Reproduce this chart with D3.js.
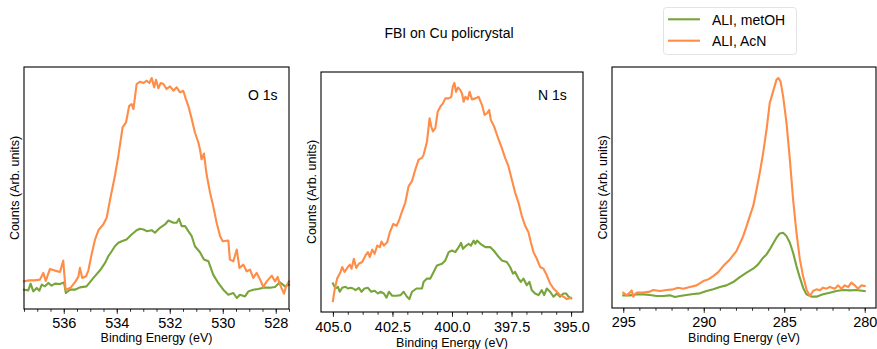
<!DOCTYPE html>
<html>
<head>
<meta charset="utf-8">
<script src="https://cdn.jsdelivr.net/npm/d3@7"></script>
<style>
  body { margin: 0; background: #fff; }
  svg { font-family: 'Liberation Sans', Arial, sans-serif; }
</style>
</head>
<body>
<svg id="chart" width="877" height="349"></svg>
<script>
// binding energy (eV) / counts (arb. units)
const o1sMetOH = [[537.50,19],[537.34,18.3],[537.25,25],[537.15,17.3],[537.02,20.7],[536.92,18],[536.83,24],[536.71,22.3],[536.58,25.7],[536.46,23],[536.33,25],[536.14,24.7],[535.99,26.3],[535.92,15.7],[535.76,19],[535.58,19],[535.39,21.3],[535.14,22.3],[534.88,30.7],[534.63,38.3],[534.44,45.7],[534.32,52.3],[534.19,57.3],[534.07,62.3],[533.94,65.7],[533.81,67.3],[533.63,69],[533.44,74],[533.25,78.3],[533.12,79.7],[532.99,79],[532.87,77.3],[532.68,78.3],[532.56,75.7],[532.37,80.7],[532.18,84],[532.05,88],[531.86,85.7],[531.74,85.7],[531.65,89.7],[531.55,82.3],[531.42,82.3],[531.30,77.3],[531.17,72.3],[531.05,62.3],[530.86,56.3],[530.71,49],[530.54,47.3],[530.36,34],[530.17,25.7],[529.98,19],[529.79,14],[529.60,15.7],[529.47,10.7],[529.35,14],[529.16,12.3],[529.03,17.3],[528.85,19],[528.66,19.7],[528.47,21],[528.22,21],[528.03,21.7],[527.84,26.3],[527.65,22.3],[527.50,24]]
const o1sAcN = [[537.50,27.3],[537.30,28.3],[537.10,28.3],[536.90,29],[536.77,35.7],[536.68,27.7],[536.52,39.7],[536.33,38],[536.14,36.7],[536.02,48],[535.93,19],[535.74,21],[535.58,26.3],[535.45,31.7],[535.39,40.7],[535.30,30.7],[535.16,32.3],[535.07,38.3],[534.95,54],[534.82,69],[534.69,78.3],[534.51,84],[534.38,90.7],[534.25,109],[534.07,132.3],[533.94,152.3],[533.78,180.7],[533.65,185.7],[533.53,202.3],[533.44,204],[533.37,199],[533.25,224],[533.12,226.3],[532.99,225],[532.87,227.3],[532.77,225],[532.68,230],[532.59,220.7],[532.52,228.3],[532.43,219.7],[532.34,225],[532.24,224],[532.12,219],[531.99,221.7],[531.86,217.3],[531.74,220.7],[531.61,215.7],[531.49,217.3],[531.39,209],[531.30,202.3],[531.17,189],[531.05,175.7],[530.92,165.7],[530.86,159],[530.80,149],[530.71,154.7],[530.61,134],[530.48,115.7],[530.36,102.3],[530.23,85.7],[530.10,72.3],[530.00,67.3],[529.79,68],[529.73,49],[529.60,47.3],[529.47,59],[529.37,40.7],[529.22,44],[529.10,37.3],[528.97,39],[528.85,30.7],[528.72,35.7],[528.59,29],[528.47,21.7],[528.34,27.3],[528.15,33],[528.03,27.3],[527.93,31.7],[527.84,24],[527.69,15],[527.61,22.3],[527.50,27.3]]

const n1sMetOH = [[405.00,27],[404.89,22],[404.79,23.7],[404.71,18.7],[404.61,22.7],[404.47,23.7],[404.37,22],[404.26,22.7],[404.15,22],[404.05,20.3],[403.91,22.7],[403.80,18.7],[403.67,22],[403.53,22.7],[403.39,18.7],[403.25,19.7],[403.11,17],[403.00,18.7],[402.86,17],[402.75,12.7],[402.65,18.7],[402.51,14.7],[402.33,14.7],[402.16,15.3],[402.03,18.7],[401.89,13.7],[401.79,11.3],[401.68,18.7],[401.49,22],[401.35,22],[401.26,22],[401.19,28.7],[401.05,32],[400.91,32],[400.77,38.7],[400.63,45.3],[400.42,47],[400.28,50.3],[400.14,58.7],[400.00,60.3],[399.86,58.7],[399.72,63.7],[399.62,68],[399.54,62],[399.40,65.3],[399.30,67],[399.20,65.3],[399.09,70.3],[399.02,67],[398.95,70.3],[398.81,67],[398.60,63.7],[398.39,63.7],[398.25,60.3],[398.09,55.3],[397.91,50.3],[397.70,48.7],[397.56,43.7],[397.44,37],[397.35,38.7],[397.21,32],[397.11,28.7],[397.00,32],[396.86,25.3],[396.75,28.7],[396.65,20.3],[396.51,17],[396.37,15.3],[396.23,20.3],[396.13,15.3],[396.02,22],[395.88,18.7],[395.74,13.7],[395.60,17],[395.46,13.7],[395.32,17],[395.21,17],[395.11,13.7],[395.00,12]]
const n1sAcN = [[405.00,9.3],[404.92,22],[404.82,32],[404.68,38.7],[404.61,43.7],[404.51,38.7],[404.40,42.7],[404.29,46],[404.22,42],[404.12,52],[404.02,42.7],[403.91,47],[403.77,48.7],[403.63,55.3],[403.53,58.7],[403.45,53.7],[403.35,61.3],[403.25,57],[403.14,65.3],[403.03,63.7],[402.96,69.3],[402.86,65.3],[402.72,68.7],[402.61,78.7],[402.47,87],[402.33,85.3],[402.23,90.3],[402.09,100.3],[401.96,108.7],[401.82,125.3],[401.68,130.3],[401.54,142],[401.40,152],[401.26,153.7],[401.19,157],[401.05,170.3],[400.94,193.7],[400.87,185.3],[400.80,180.3],[400.70,183.7],[400.60,200.3],[400.49,205.3],[400.38,208.7],[400.28,213.7],[400.14,213.7],[400.03,215.3],[399.97,225.3],[399.90,229.3],[399.83,220.3],[399.75,224.7],[399.65,222],[399.58,218.7],[399.51,210.3],[399.44,215.3],[399.34,212.7],[399.26,220.3],[399.16,212.7],[399.02,213.7],[398.88,215.3],[398.74,207],[398.63,197],[398.53,198.7],[398.44,202],[398.37,192],[398.23,185.3],[398.04,172],[397.91,163.7],[397.77,153.7],[397.63,145.3],[397.49,132],[397.35,118.7],[397.21,108.7],[397.07,95.3],[396.93,85.3],[396.79,78.7],[396.69,68.7],[396.58,58.7],[396.44,52],[396.30,43.7],[396.16,42],[396.02,35.3],[395.88,27],[395.74,22],[395.60,18.7],[395.46,15.3],[395.32,13.7],[395.18,11.3],[395.00,12.7]]

const c1sMetOH = [[295.00,12],[294.59,12],[294.17,13],[293.76,13],[293.34,12.3],[292.93,11.3],[292.52,11.3],[292.10,12],[291.79,10.3],[291.48,11.3],[291.07,12.3],[290.65,13.3],[290.24,14],[289.83,16.3],[289.41,18],[289.00,20.3],[288.59,22],[288.17,25.3],[287.76,30.3],[287.34,34.7],[286.93,38.7],[286.62,43],[286.31,49.7],[286.10,53],[285.90,58],[285.69,64],[285.48,69.7],[285.28,74],[285.07,74.7],[284.86,71.3],[284.65,64.7],[284.45,54.7],[284.24,41.3],[284.03,29.7],[283.83,19.7],[283.62,13],[283.31,10.7],[283.00,10.7],[282.59,13],[282.17,14.7],[281.76,16.3],[281.34,17.3],[280.93,17],[280.52,17.3],[280.00,16.3]]
const c1sAcN = [[295.00,14.7],[294.79,12],[294.59,14.7],[294.48,17],[294.38,10.7],[294.17,14.7],[293.76,14.7],[293.34,15.7],[293.14,17.3],[292.72,16.3],[292.31,17.3],[291.90,18],[291.59,19.7],[291.28,18.7],[290.86,20.3],[290.45,22],[290.03,26.3],[289.72,28],[289.41,31.3],[289.10,35.3],[288.79,41.3],[288.38,48],[287.97,56.3],[287.55,71.3],[287.34,81.3],[287.14,91.3],[286.93,101.3],[286.72,118],[286.52,134.7],[286.31,154.7],[286.10,178],[285.90,204.7],[285.69,216.3],[285.48,228],[285.36,229.7],[285.23,226.3],[285.07,211.3],[284.86,184.7],[284.65,148],[284.45,108],[284.24,74.7],[284.03,48],[283.83,31.3],[283.62,18],[283.41,11.3],[283.21,16.3],[283.00,18],[282.79,17],[282.59,19.7],[282.38,18.7],[282.17,20.3],[281.86,18.7],[281.65,22],[281.45,18.7],[281.24,22],[281.03,20.3],[280.83,24.7],[280.62,22],[280.41,18.7],[280.21,22],[280.00,21.3]]

const o1sRange = [537.5, 527.5]
const n1sRange = [405.5, 394.5]
const c1sRange = [295.7, 279.3]
const o1sTicks = [536, 534, 532, 530, 528]
const n1sTicks = [405, 402.5, 400, 397.5, 395]
const c1sTicks = [295, 290, 285, 280]

const seriesNames = ['ALI, metOH', 'ALI, AcN']
const colors = ['#77a539', '#ff8c47']

const svg = d3.select('#chart')

const panels = [
  { box: [24, 289, 67, 309], domain: o1sRange, ticks: o1sTicks, minor: 0.5, fmt: d3.format('d'),
    data: [o1sMetOH, o1sAcN], tag: 'O 1s', tagX: 248, tickBase: 0, labelY: 342 },
  { box: [321, 583, 72, 312], domain: n1sRange, ticks: n1sTicks, minor: 0.625, fmt: d3.format('.1f'),
    data: [n1sMetOH, n1sAcN], tag: 'N 1s', tagX: 538, tickBase: 1, labelY: 347 },
  { box: [612, 876, 67, 308], domain: c1sRange, ticks: c1sTicks, minor: 1, fmt: d3.format('d'),
    data: [c1sMetOH, c1sAcN], tag: null, tagX: 0, tickBase: 0, labelY: 342 },
]

panels.forEach((p) => {
  const [left, right, top, bottom] = p.box
  const x = d3.scaleLinear().domain(p.domain).range([left, right])

  // matplotlib-style 5% margin around the data
  const all = p.data.flat().map((d) => d[1])
  const [lo, hi] = d3.extent(all)
  const pad = (hi - lo) * 0.05
  const y = d3.scaleLinear().domain([lo - pad, hi + pad]).range([bottom, top])

  const g = svg.append('g')

  const line = d3.line().x((d) => x(d[0])).y((d) => y(d[1]))

  g.selectAll('.trace')
    .data(p.data)
    .join('path')
    .attr('class', 'trace')
    .attr('fill', 'none')
    .attr('stroke', (d, i) => colors[i])
    .attr('stroke-width', 2.1)
    .attr('stroke-linejoin', 'round')
    .attr('stroke-linecap', 'square')
    .attr('d', line)

  // minor ticks
  const [d0, d1] = p.domain
  const first = Math.ceil(d1 / p.minor) * p.minor
  const minorVals = d3.range(first, d0 + 1e-9, p.minor)
  g.append('g')
    .attr('transform', `translate(0,${bottom})`)
    .call(d3.axisBottom(x).tickValues(minorVals).tickSize(2.8).tickFormat(''))
    .call((a) => a.select('.domain').remove())
    .call((a) => a.selectAll('line').attr('stroke', '#000').attr('stroke-width', 0.8))

  // major ticks
  g.append('g')
    .attr('transform', `translate(0,${bottom})`)
    .call(d3.axisBottom(x).tickValues(p.ticks).tickSize(4.9).tickPadding(4 + p.tickBase).tickFormat(p.fmt))
    .call((a) => a.select('.domain').remove())
    .call((a) => a.selectAll('line').attr('stroke', '#000').attr('stroke-width', 0.8))
    .call((a) => a.selectAll('text').attr('fill', '#000').style('font-size', '14.5px')
      .style('font-family', "'Liberation Sans', Arial, sans-serif"))

  g.append('rect')
    .attr('x', left)
    .attr('y', top)
    .attr('width', right - left)
    .attr('height', bottom - top)
    .attr('fill', 'none')
    .attr('stroke', '#000')
    .attr('stroke-width', 1.1)

  g.append('text')
    .attr('x', (left + right) / 2)
    .attr('y', p.labelY)
    .attr('text-anchor', 'middle')
    .style('font-size', '12.5px')
    .text('Binding Energy (eV)')

  g.append('text')
    .attr('transform', `translate(${left - 5.5},${(top + bottom) / 2}) rotate(-90)`)
    .attr('text-anchor', 'middle')
    .style('font-size', '12.5px')
    .text('Counts (Arb. units)')

  if (p.tag) {
    g.append('text')
      .attr('x', p.tagX)
      .attr('y', 99.5)
      .style('font-size', '14px')
      .text(p.tag)
  }
})

svg.append('text')
  .attr('x', 449)
  .attr('y', 37.7)
  .attr('text-anchor', 'middle')
  .style('font-size', '14px')
  .text('FBI on Cu policrystal')

const legend = svg.append('g')
legend.append('rect')
  .attr('x', 663.5)
  .attr('y', 7.5)
  .attr('width', 133)
  .attr('height', 47)
  .attr('rx', 3)
  .attr('fill', '#fff')
  .attr('fill-opacity', 0.8)
  .attr('stroke', '#e3e3e3')
  .attr('stroke-width', 1)

legend.selectAll('.key')
  .data(seriesNames)
  .join('line')
  .attr('class', 'key')
  .attr('x1', 668)
  .attr('x2', 700)
  .attr('y1', (d, i) => 19.3 + i * 21.4)
  .attr('y2', (d, i) => 19.3 + i * 21.4)
  .attr('stroke', (d, i) => colors[i])
  .attr('stroke-width', 2.1)

legend.selectAll('.keytext')
  .data(seriesNames)
  .join('text')
  .attr('class', 'keytext')
  .attr('x', 712)
  .attr('y', (d, i) => 24.5 + i * 21.4)
  .style('font-size', '14px')
  .text((d) => d)
</script>
</body>
</html>
